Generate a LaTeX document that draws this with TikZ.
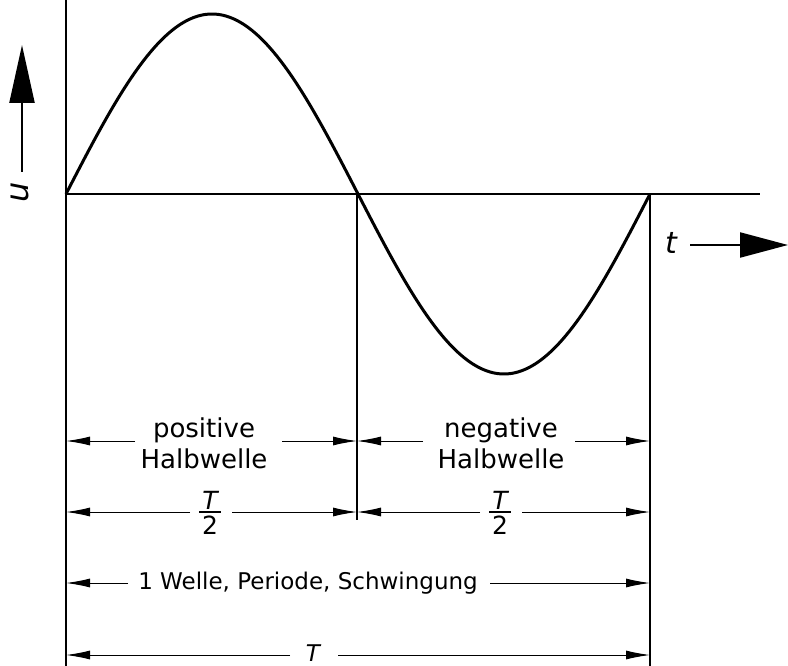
\documentclass[tikz,border=0pt]{standalone}
\usepackage{fontspec}
\setmainfont{DejaVu Sans}
\usetikzlibrary{arrows.meta}
\tikzset{
  dim/.style={line width=1pt,-{Latex[length=24pt,width=9pt]}},
  bigarrow/.style={line width=2.2pt},
  lbl/.style={font=\fontsize{23}{27}\selectfont,inner sep=0pt,align=center},
  lbl2/.style={font=\fontsize{26}{31}\selectfont,inner sep=0pt,align=center},
  frac/.style={font=\fontsize{25}{27}\selectfont,inner sep=0pt},
  axis/.style={line width=1.5pt},
}
\begin{document}
\begin{tikzpicture}[x=1pt,y=-1pt]
\useasboundingbox (0,0) rectangle (788,666);
% axes
\coordinate (ytop) at (66,0);
\coordinate (ybot) at (66,666);
\coordinate (o) at (66,194);
\coordinate (xend) at (760,194);
\coordinate (m) at (357,194);
\coordinate (mb) at (357,520);
\coordinate (e) at (650,194);
\coordinate (eb) at (650,666);
\draw[axis] (ytop) -- (ybot);
\draw[axis] (o) -- (xend);
\draw[line width=1.2pt] (m) -- (mb);
\draw[line width=1.2pt] (e) -- (eb);
% sine
\draw[line width=3pt] plot[domain=0:360,samples=120,smooth] ({66+(\x/360)*584},{194-180*sin(\x)});
% u arrow
\node[lbl,rotate=90,font=\fontsize{32}{34}\selectfont\itshape] (u) at (20,192) {u};
\coordinate (us) at (22,172);
\coordinate (ue) at (22,45);
\draw[bigarrow,-{Triangle[length=58pt,width=25pt]}] (us) -- (ue);
% t arrow
\node[lbl,font=\fontsize{30}{32}\selectfont\itshape] (t) at (671,243) {t};
\coordinate (ts) at (690,245);
\coordinate (te) at (788,245);
\draw[bigarrow,-{Triangle[length=48pt,width=25pt]}] (ts) -- (te);
% row 1
\node[lbl2] (pos) at (204,443) {positive\\Halbwelle};
\coordinate (p1) at (135,441); \coordinate (p1e) at (66,441);
\coordinate (p2) at (282,441); \coordinate (p2e) at (357,441);
\draw[dim] (p1) -- (p1e);
\draw[dim] (p2) -- (p2e);
\node[lbl2] (neg) at (501,443) {negative\\Halbwelle};
\coordinate (n1) at (423,441); \coordinate (n1e) at (357,441);
\coordinate (n2) at (575,441); \coordinate (n2e) at (650,441);
\draw[dim] (n1) -- (n1e);
\draw[dim] (n2) -- (n2e);
% row 2
\node[frac,font=\fontsize{25}{27}\selectfont\itshape,anchor=base] (h1t) at (210,509) {T};
\node[frac,anchor=base] (h1b) at (210,534) {2};
\coordinate (f1l) at (199,512); \coordinate (f1r) at (221,512);
\draw[line width=1.4pt] (f1l) -- (f1r);
\coordinate (a1) at (190,512); \coordinate (a1e) at (66,512);
\coordinate (a2) at (232,512); \coordinate (a2e) at (357,512);
\draw[dim] (a1) -- (a1e);
\draw[dim] (a2) -- (a2e);
\node[frac,font=\fontsize{25}{27}\selectfont\itshape,anchor=base] (h2t) at (500,509) {T};
\node[frac,anchor=base] (h2b) at (500,534) {2};
\coordinate (f2l) at (489,512); \coordinate (f2r) at (511,512);
\draw[line width=1.4pt] (f2l) -- (f2r);
\coordinate (b1) at (480,512); \coordinate (b1e) at (357,512);
\coordinate (b2) at (522,512); \coordinate (b2e) at (650,512);
\draw[dim] (b1) -- (b1e);
\draw[dim] (b2) -- (b2e);
% row 3
\node[lbl] (per) at (308,583) {1 Welle, Periode, Schwingung};
\coordinate (c1) at (128,583); \coordinate (c1e) at (66,583);
\coordinate (c2) at (490,583); \coordinate (c2e) at (650,583);
\draw[dim] (c1) -- (c1e);
\draw[dim] (c2) -- (c2e);
% row 4
\node[frac,font=\fontsize{23}{25}\selectfont\itshape,anchor=base] (T) at (313,661) {T};
\coordinate (d1) at (290,655); \coordinate (d1e) at (66,655);
\coordinate (d2) at (338,655); \coordinate (d2e) at (650,655);
\draw[dim] (d1) -- (d1e);
\draw[dim] (d2) -- (d2e);
\end{tikzpicture}
\end{document}
